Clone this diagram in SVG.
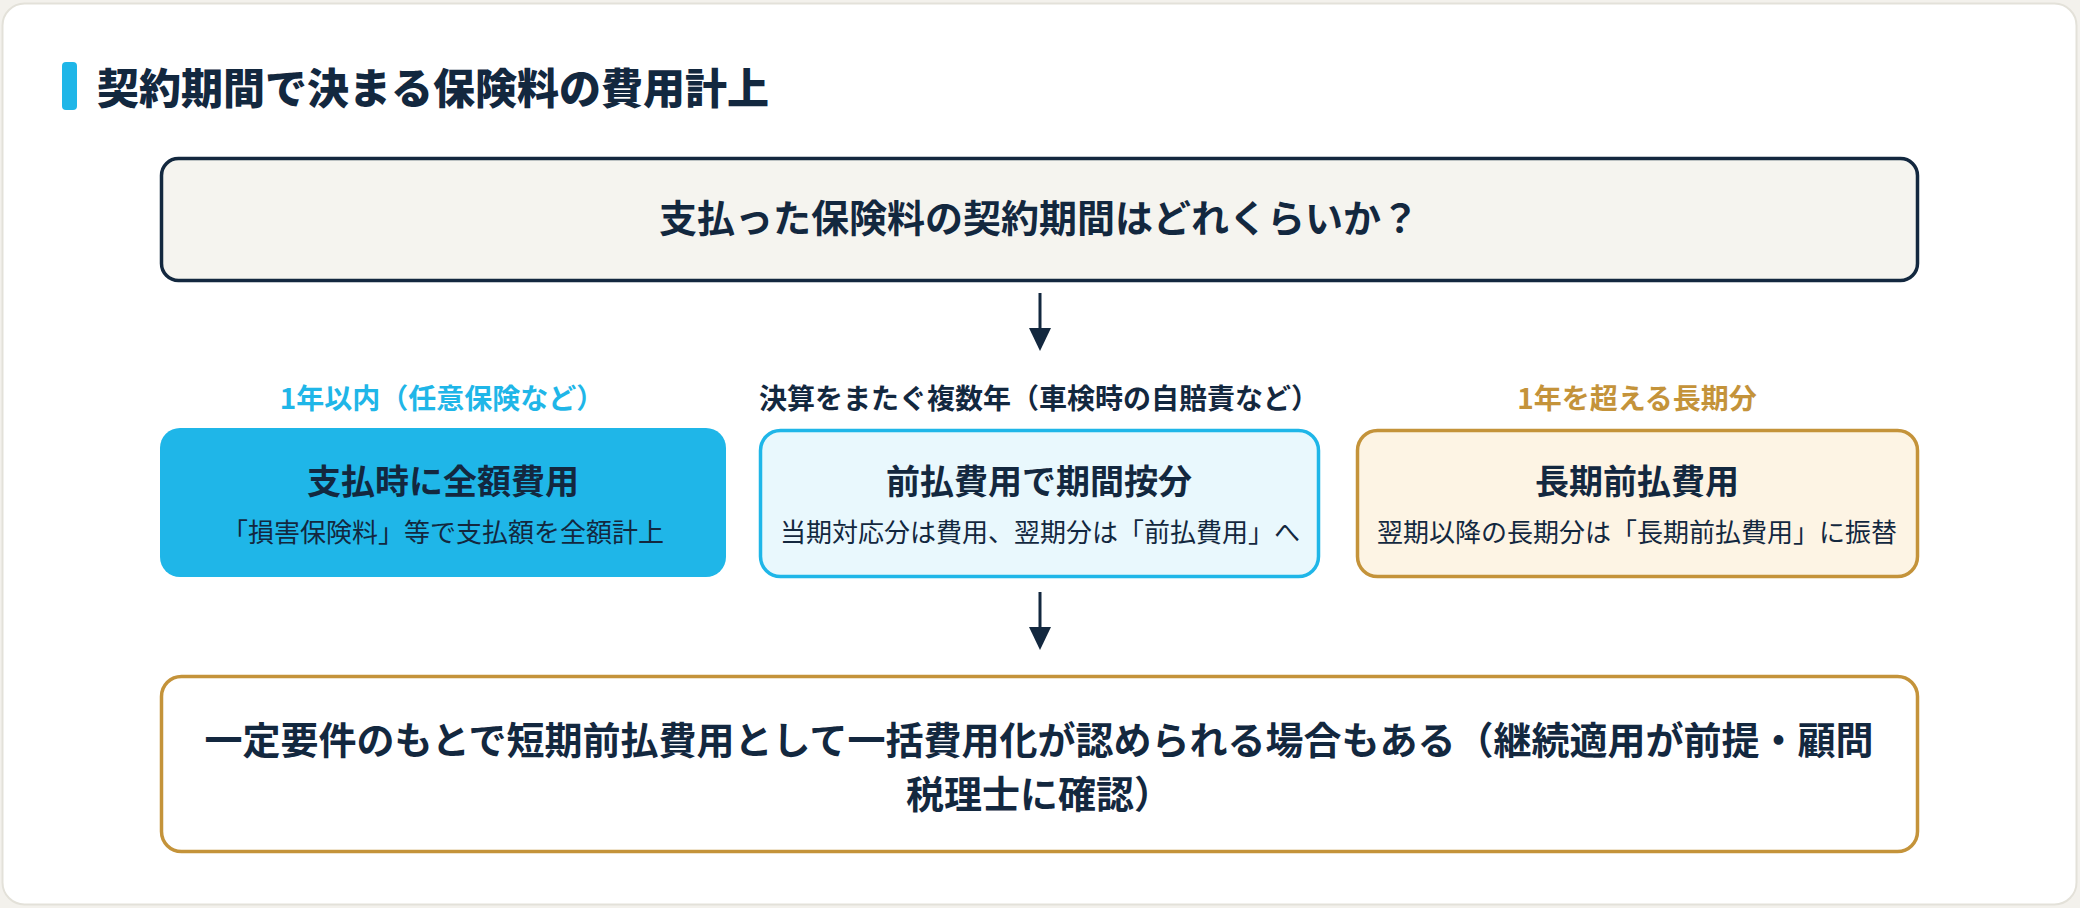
<svg xmlns="http://www.w3.org/2000/svg" width="2080" height="908" viewBox="0 0 2080 908">
<defs>
<style>
text{font-family:"Noto Sans CJK JP","Noto Sans",sans-serif;fill:#13283f;text-anchor:middle}
.ttl{font-size:42px;font-weight:900;text-anchor:start}
.q{font-size:38px;font-weight:700}
.lbl{font-size:28px;font-weight:700}
.h{font-size:34px;font-weight:700}
.s{font-size:26px;font-weight:400}
.conn{stroke:#13283f;stroke-width:3;fill:none}
</style>
</defs>
<rect x="0" y="0" width="2080" height="908" fill="#f3f1ec"/>
<rect x="2.5" y="3.5" width="2074" height="901" rx="22" fill="#ffffff" stroke="#e3e1d9" stroke-width="2"/>
<g id="title">
<rect x="62" y="62" width="15" height="48" rx="4" fill="#1fb6e8"/>
<text class="ttl" x="97" y="104">契約期間で決まる保険料の費用計上</text>
</g>
<g id="question">
<rect x="161.5" y="158.5" width="1756" height="122" rx="17" fill="#f5f4ef" stroke="#13283f" stroke-width="3.5"/>
<text class="q" x="1039" y="232">支払った保険料の契約期間はどれくらいか？</text>
</g>
<g id="short">
<text class="lbl" x="442" y="409" style="fill:#1fb6e8">1年以内（任意保険など）</text>
<rect x="160" y="428" width="566" height="149" rx="20" fill="#1fb6e8"/>
<text class="h" x="443" y="494">支払時に全額費用</text>
<text class="s" x="443" y="542">「損害保険料」等で支払額を全額計上</text>
</g>
<g id="prepaid">
<text class="lbl" x="1039" y="409">決算をまたぐ複数年（車検時の自賠責など）</text>
<rect x="760.5" y="430.5" width="558" height="146" rx="20" fill="#e9f8fd" stroke="#1fb6e8" stroke-width="3.5"/>
<text class="h" x="1039" y="494">前払費用で期間按分</text>
<text class="s" x="1040" y="542">当期対応分は費用、翌期分は「前払費用」へ</text>
</g>
<g id="longterm">
<text class="lbl" x="1637" y="409" style="fill:#c4933a">1年を超える長期分</text>
<rect x="1357.5" y="430.5" width="560" height="146" rx="20" fill="#fdf4e4" stroke="#c4933a" stroke-width="3.5"/>
<text class="h" x="1637" y="494">長期前払費用</text>
<text class="s" x="1637" y="542">翌期以降の長期分は「長期前払費用」に振替</text>
</g>
<g id="note">
<rect x="161.5" y="676.5" width="1756" height="175" rx="20" fill="#ffffff" stroke="#c4933a" stroke-width="3.5"/>
<text class="q" x="1039" y="754">一定要件のもとで短期前払費用として一括費用化が認められる場合もある（継続適用が前提・顧問</text>
<text class="q" x="1039" y="808">税理士に確認）</text>
</g>
<g id="connectors">
<line class="conn" x1="1040" y1="293" x2="1040" y2="330"/>
<path d="M1029,328 L1051,328 L1040,351 Z" fill="#13283f"/>
<line class="conn" x1="1040" y1="592" x2="1040" y2="629"/>
<path d="M1029,627 L1051,627 L1040,650 Z" fill="#13283f"/>
</g>
</svg>
